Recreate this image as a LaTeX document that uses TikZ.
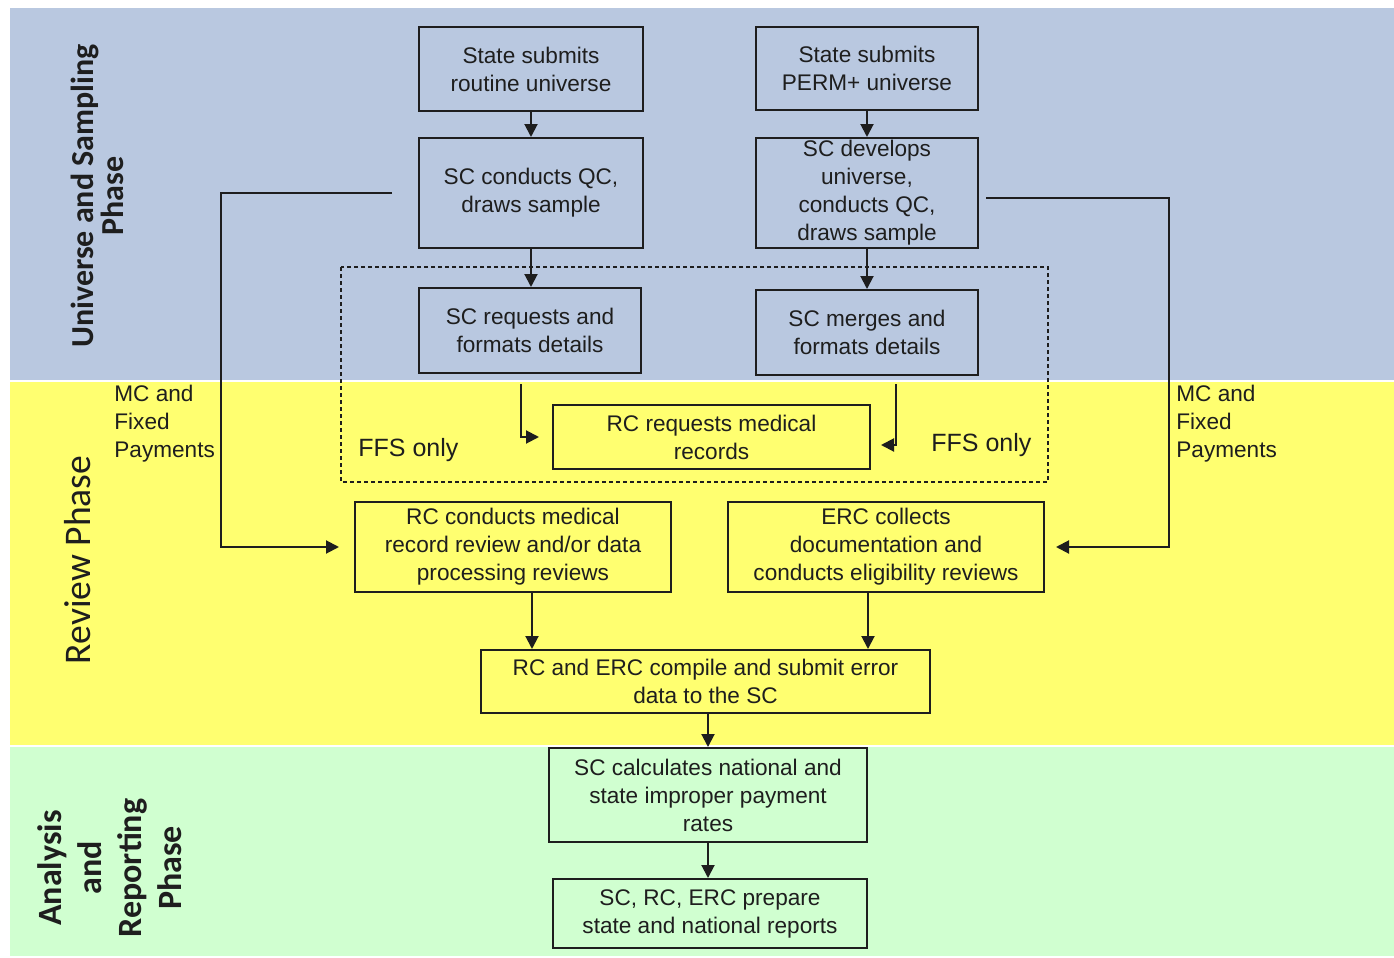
\documentclass[tikz,border=0pt]{standalone}
\usepackage{fontspec}
\setmainfont{Liberation Sans}
\newfontfamily\calibri{Carlito}
\usetikzlibrary{arrows.meta}
\definecolor{bandblue}{HTML}{B9C8E0}
\definecolor{bandyellow}{HTML}{FFFF70}
\definecolor{bandgreen}{HTML}{D0FFD0}
\definecolor{ink}{HTML}{1E1E1E}
\tikzset{
  box/.style={draw=ink, line width=1pt, inner sep=0pt, align=center, text=ink,
    font=\fontsize{11.3}{14}\selectfont},
  arr/.style={draw=ink, line width=1pt, -{Triangle[length=6.5pt,width=6.5pt]}},
  lbl/.style={inner sep=0pt, text=ink, font=\fontsize{11.3}{14}\selectfont, align=left},
  ffs/.style={inner sep=0pt, text=ink, font=\fontsize{12.5}{15}\selectfont},
  phase/.style={inner sep=0pt, text=ink, rotate=90, align=center}
}
\begin{document}
\begin{tikzpicture}[x=0.5pt,y=-0.5pt]
\useasboundingbox (0,0) rectangle (1394,958);
\fill[white] (0,0) rectangle (1394,958);
% bands
\fill[bandblue] (10,8) rectangle (1394,380);
\fill[bandyellow] (10,382) rectangle (1394,745);
\fill[bandgreen] (10,747) rectangle (1394,956);
% phase labels
\node[phase, font=\calibri\bfseries\fontsize{16}{15}\selectfont] (p1) at (97,196) {Universe and Sampling\\Phase};
\node[phase, font=\calibri\fontsize{18.8}{20}\selectfont] (p2) at (78,560) {Review Phase};
\node[phase, font=\calibri\bfseries\fontsize{17}{20}\selectfont] (p3) at (110,868) {Analysis\\and\\Reporting\\Phase};
% dashed FFS region
\draw[ink, line width=0.9pt, dash pattern=on 2pt off 1.5pt] (341,267) rectangle (1048,482);
% boxes
\node[box, minimum width=112pt, minimum height=42pt] (A) at (531,69) {State submits\\routine universe};
\node[box, minimum width=111pt, minimum height=41.5pt] (B) at (867,68.5) {State submits\\PERM+ universe};
\node[box, minimum width=112pt, minimum height=55pt] (C) at (531,193) {SC conducts QC,\\draws sample};
\node[box, minimum width=111pt, minimum height=55pt] (D) at (867,193) {SC develops\\universe,\\conducts QC,\\draws sample};
\node[box, minimum width=111pt, minimum height=42.5pt] (E) at (530,330.5) {SC requests and\\formats details};
\node[box, minimum width=111pt, minimum height=42.5pt] (F) at (867,332.5) {SC merges and\\formats details};
\node[box, minimum width=158.5pt, minimum height=32pt] (G) at (711.5,437) {RC requests medical\\records};
\node[box, minimum width=158pt, minimum height=45pt] (H) at (513,547) {RC conducts medical\\record review and/or data\\processing reviews};
\node[box, minimum width=158pt, minimum height=45pt] (I) at (886,547) {ERC collects\\documentation and\\conducts eligibility reviews};
\node[box, minimum width=224.5pt, minimum height=31.5pt] (J) at (705.5,681.5) {RC and ERC compile and submit error\\data to the SC};
\node[box, minimum width=159pt, minimum height=47pt] (K) at (708,795) {SC calculates national and\\state improper payment\\rates};
\node[box, minimum width=157pt, minimum height=34.5pt] (L) at (710,913.5) {SC, RC, ERC prepare\\state and national reports};
% side labels
\node[lbl, anchor=west] (mcl) at (114,424) {MC and\\Fixed\\Payments};
\node[lbl, anchor=west] (mcr) at (1176,424) {MC and\\Fixed\\Payments};
\node[ffs, anchor=west] (ffsl) at (358,450) {FFS only};
\node[ffs, anchor=west] (ffsr) at (931,445) {FFS only};
% connectors
\draw[arr] (A) -- (C);
\draw[arr] (B) -- (D);
\draw[arr] (C.south) -- (C.south |- E.north);
\draw[arr] (D) -- (F);
\draw[arr] ([xshift=-4.5pt,yshift=-5pt]E.south) |- ([xshift=-6.5pt]G.west);
\draw[arr] ([xshift=14.5pt,yshift=-4pt]F.south) |- ([xshift=5pt,yshift=-4pt]G.east);
\draw[arr] ([xshift=-13pt]C.west) -- ++(-171,0) |- ([xshift=-7.5pt]H.west);
\draw[arr] ([xshift=3.5pt,yshift=-2.5pt]D.east) -- ++(183,0) |- ([xshift=5.5pt]I.east);
\draw[arr] ([xshift=9.5pt]H.south) -- ([xshift=9.5pt]H.south |- J.north);
\draw[arr] ([xshift=-9pt]I.south) -- ([xshift=-9pt]I.south |- J.north);
\draw[arr] (K.north |- J.south) -- (K.north);
\draw[arr] (K.south) -- (K.south |- L.north);
\end{tikzpicture}
\end{document}
